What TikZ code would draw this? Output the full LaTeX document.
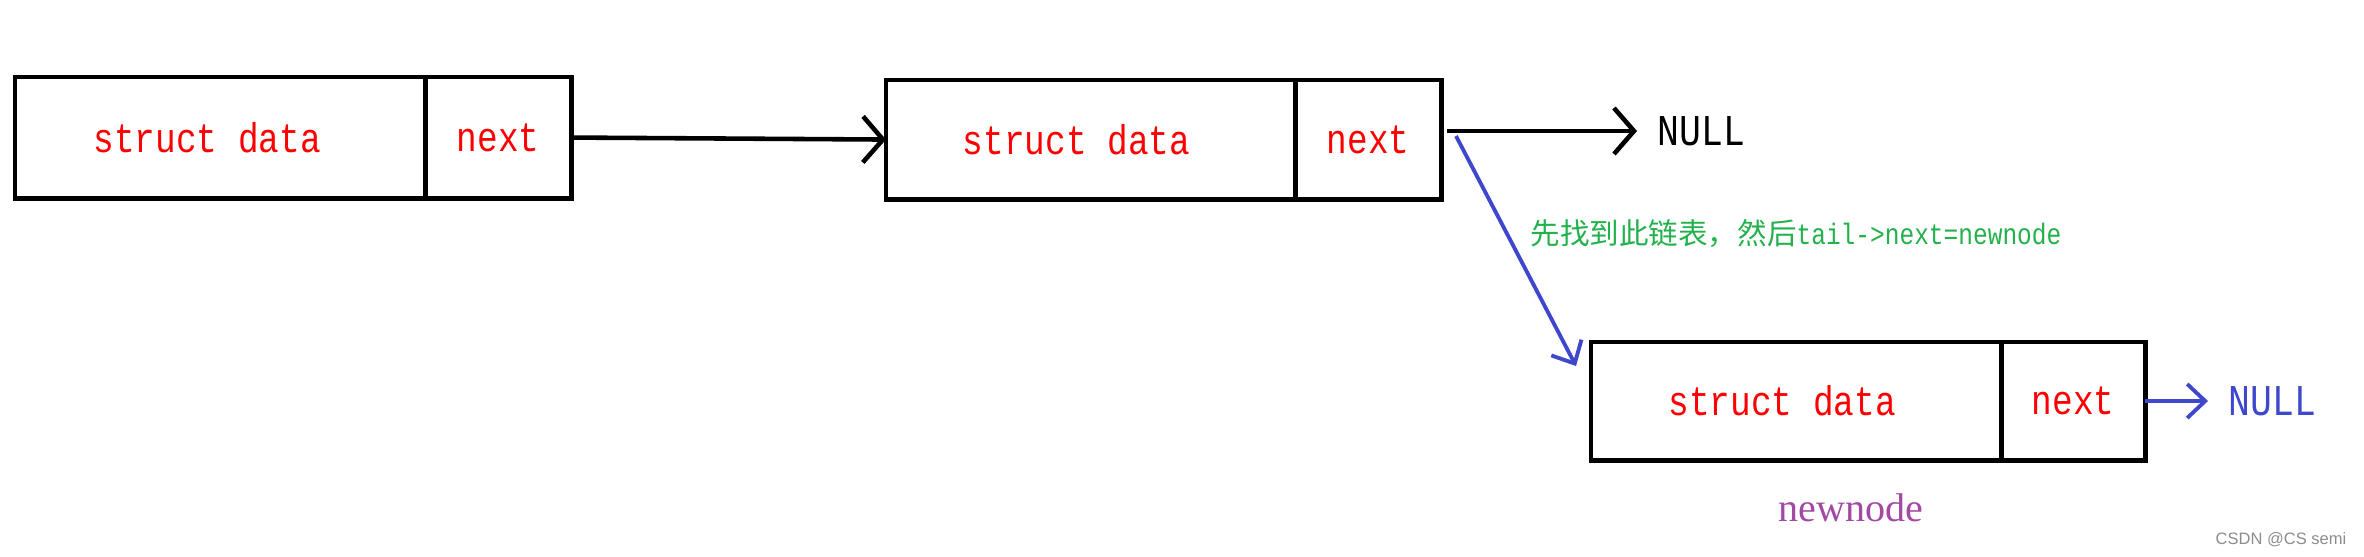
\documentclass[tikz,border=0pt]{standalone}
\usepackage{fontspec}
\setmainfont{Liberation Serif}
\newfontfamily\simmono[FakeStretch=0.83]{Liberation Mono}
\newfontfamily\cjkfont{Noto Sans CJK SC}
\newfontfamily\wmfont{Liberation Sans}
\usetikzlibrary{arrows.meta}
\definecolor{pblue}{RGB}{63,72,204}
\definecolor{pgreen}{RGB}{34,177,76}
\definecolor{ppurple}{RGB}{163,73,164}
\definecolor{pred}{RGB}{255,0,0}
\begin{document}
\begin{tikzpicture}[x=0.01cm,y=-0.01cm,
  part/.style={draw=black, line width=1.4pt, anchor=north west, inner sep=0pt, outer sep=0pt,
     text=pred, font=\simmono\fontsize{11.8pt}{14pt}\selectfont},
  blkarrow/.style={draw=black, line width=1.3pt, -{Straight Barb[length=0.2cm,width=0.46cm]}},
  bluearrow/.style={draw=pblue, line width=1.1pt, -{Straight Barb[length=0.18cm,width=0.34cm]}},
  nulltext/.style={font=\simmono\fontsize{12.5pt}{14pt}\selectfont, inner ysep=0pt},
]
\useasboundingbox (0,0) rectangle (2364,556);
% first node
\node[part, minimum width=4.10cm, minimum height=1.21cm] (d1) at (15,77) {struct data\hspace*{0.26cm}};
\node[part, minimum width=1.46cm, minimum height=1.21cm] (n1) at (425,77) {next};
% second node
\node[part, minimum width=4.09cm, minimum height=1.19cm] (d2) at (886,80) {struct data\hspace*{0.28cm}};
\node[part, minimum width=1.46cm, minimum height=1.19cm] (n2) at (1295,80) {next};
% new node
\node[part, minimum width=4.10cm, minimum height=1.18cm] (d3) at (1591,342) {struct data\hspace*{0.28cm}};
\node[part, minimum width=1.44cm, minimum height=1.18cm] (n3) at (2001,342) {next};

\draw[blkarrow] (n1.east) -- (d2.west);

\node[nulltext, anchor=west, inner xsep=0.2cm] (null1) at (1637,131) {NULL};
\coordinate (c2) at (1447,131);
\draw[blkarrow] (c2) -- (null1.west);

\coordinate (bs) at (1456,136);
\coordinate (bt) at (1576,366);
\draw[bluearrow] (bs) -- (bt);

\node[anchor=west, inner sep=0pt, text=pgreen] (note) at (1530,234)
  {\cjkfont\fontsize{8.4pt}{10pt}\selectfont 先找到此链表，然后\simmono tail->next=newnode};

\node[nulltext, anchor=west, inner xsep=0.2cm, text=pblue] (null2) at (2208,401) {NULL};
\draw[bluearrow] (n3.east) -- (null2.west);

\node[text=ppurple, font=\fontsize{11.4pt}{13pt}\selectfont] (nn) at (1851,508) {newnode};

\node[text=black!45, font=\wmfont\fontsize{4.7pt}{6pt}\selectfont] (wm) at (2281,540) {CSDN @CS semi};
\end{tikzpicture}
\end{document}
